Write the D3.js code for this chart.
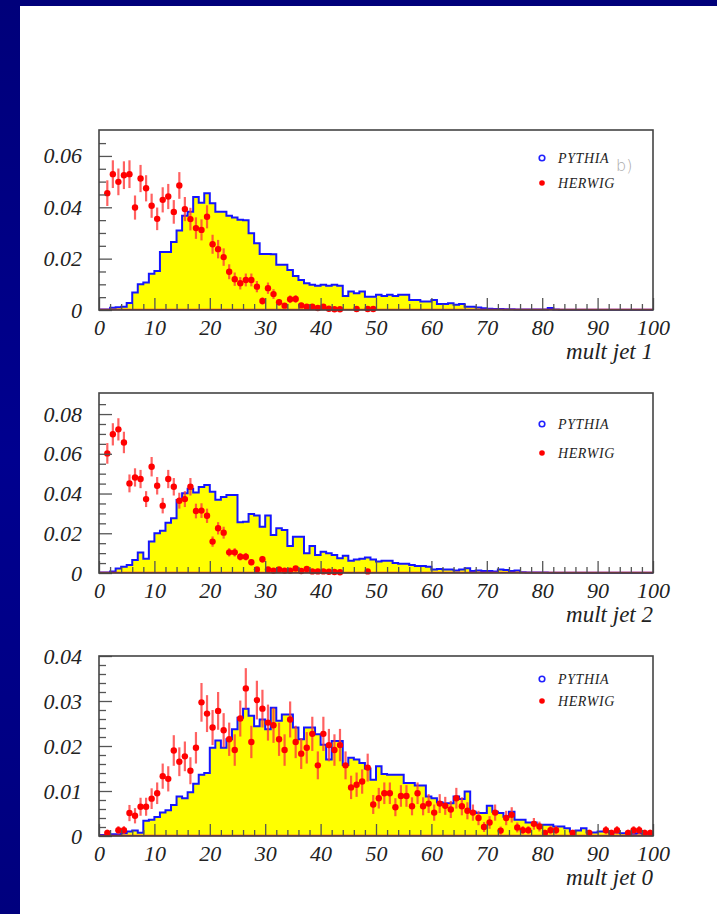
<!DOCTYPE html>
<html><head><meta charset="utf-8">
<script src="https://cdn.jsdelivr.net/npm/d3@7"></script>
<style>html,body{margin:0;padding:0;background:#fff;overflow:hidden}</style>
</head><body><svg id="c" width="717" height="914"></svg>
<script>
// ---------------- DATA ----------------
const xMajorTicks = [0,10,20,30,40,50,60,70,80,90,100];
const xMinorTicks = [2,4,6,8,12,14,16,18,22,24,26,28,32,34,36,38,42,44,46,48,52,54,56,58,62,64,66,68,72,74,76,78,82,84,86,88,92,94,96,98];
const seriesNames = ["PYTHIA","HERWIG"];
const axisTitles = ["mult jet 1","mult jet 2","mult jet 0"];

const y1Major = [0,0.02,0.04,0.06];
const y1Minor = [0.005,0.01,0.015,0.025,0.03,0.035,0.045,0.05,0.055,0.065];
const y2Major = [0,0.02,0.04,0.06,0.08];
const y2Minor = [0.005,0.01,0.015,0.025,0.03,0.035,0.045,0.05,0.055,0.065,0.07,0.075,0.085];
const y3Major = [0,0.01,0.02,0.03,0.04];
const y3Minor = [0.002,0.004,0.006,0.008,0.012,0.014,0.016,0.018,0.022,0.024,0.026,0.028,0.032,0.034,0.036,0.038];

// bins 0..99 (width 1)
const p1Pythia = [0.0002,0.0002,0.0009,0.0011,0.0013,0.0027,0.0068,0.0100,0.0107,0.0141,0.0152,0.0226,0.0226,0.0265,0.0310,0.0367,0.0383,0.0440,0.0418,0.0455,0.0416,0.0383,0.0383,0.0367,0.0360,0.0351,0.0350,0.0299,0.0260,0.0218,
0.0218,0.0217,0.0176,0.0176,0.0156,0.0132,0.0117,0.0104,0.0098,0.0094,0.0098,0.0094,0.0098,0.0094,0.0055,0.0072,0.0065,0.0072,0.0052,0.0052,
0.0059,0.0055,0.0059,0.0055,0.0059,0.0059,0.0039,0.0039,0.0033,0.0033,0.0039,0.0023,0.0023,0.0026,0.0020,0.0023,0.0013,0.0013,0.0010,0.0007,
0.0005,0.0004,0.0004,0.0003,0.0003,0.0002,0.0002,0.0002,0.0002,0.0002,0.0002,0.0008,0.0002,0.0001,0.0001,0.0001,0.0001,0.0001,0.0001,0.0001,
0.0001,0.0001,0.0001,0.0001,0.0001,0.0001,0.0001,0.0001,0.0001,0.0001];
const p1Herwig = [0,0.0455,0.0529,0.0499,0.0525,0.0529,0.0399,0.0512,0.0474,0.0406,0.0355,0.0429,0.0442,0.0382,0.0485,0.0393,0.0354,0.0319,0.0312,0.0363,
0.0256,0.0237,0.0206,0.0149,0.0120,0.0104,0.0117,0.0117,0.0091,0.0035,0.0085,0.0062,0.0030,0.0017,0.0042,0.0043,0.0018,0.0013,0.0013,0.0008,
0.0013,0.0005,0.0003,0.0003,0,0,0.0004,0,0.0004,0.0004,
0,0,0,0,0,0,0,0,0,0,0,0,0,0,0,0,0,0,0,0,0,0,0,0,0,0,0,0,0,0,0,0,0,0,0,0,0,0,0,0,0,0,0,0,0,0,0,0,0,0];
const p1Err = [0,0.0050,0.0054,0.0052,0.0054,0.0054,0.0047,0.0053,0.0051,0.0047,0.0044,0.0049,0.0049,0.0046,0.0052,0.0047,0.0044,0.0042,0.0041,0.0045,
0.0037,0.0036,0.0034,0.0029,0.0026,0.0024,0.0025,0.0025,0.0022,0.0014,0.0022,0.0019,0.0013,0.0010,0.0015,0.0015,0.0010,0.0008,0.0008,0.0006,
0.0008,0.0005,0.0004,0.0004,0,0,0.0004,0,0.0004,0.0004,
0,0,0,0,0,0,0,0,0,0,0,0,0,0,0,0,0,0,0,0,0,0,0,0,0,0,0,0,0,0,0,0,0,0,0,0,0,0,0,0,0,0,0,0,0,0,0,0,0,0];

const p2Pythia = [0.0002,0.0002,0.0007,0.0023,0.0032,0.0040,0.0065,0.0103,0.0072,0.0158,0.0200,0.0213,0.0253,0.0275,0.0367,0.0401,0.0424,0.0405,0.0433,0.0443,
0.0409,0.0369,0.0383,0.0392,0.0392,0.0256,0.0258,0.0297,0.0290,0.0233,0.0290,0.0191,0.0225,0.0217,0.0136,0.0183,0.0183,0.0099,0.0136,0.0091,
0.0107,0.0099,0.0091,0.0074,0.0087,0.0062,0.0068,0.0072,0.0078,0.0068,0.0058,0.0062,0.0062,0.0050,0.0046,0.0046,0.0040,0.0035,0.0035,0.0032,
0.0018,0.0020,0.0018,0.0018,0.0012,0.0018,0.0024,0.0010,0.0012,0.0010,0.0010,0.0008,0.0018,0.0015,0.0010,0.0012,0.0004,0.0003,0.0003,0.0003,
0.0002,0.0001,0.0001,0.0001,0.0001,0.0001,0.0001,0.0001,0.0001,0.0001,0.0001,0.0001,0.0001,0.0001,0.0001,0.0001,0.0001,0.0001,0.0001,0.0001];
const p2Herwig = [0,0.0602,0.0698,0.0723,0.0657,0.0451,0.0481,0.0473,0.0372,0.0535,0.0439,0.0339,0.0473,0.0434,0.0364,0.0372,0.0434,0.0312,0.0314,0.0288,
0.0158,0.0225,0.0203,0.0104,0.0104,0.0082,0.0082,0.0054,0.0018,0.0069,0.0018,0.0012,0.0018,0.0012,0.0012,0.0023,0.0010,0.0020,0.0008,0.0008,
0.0008,0.0006,0.0005,0.0004,0,0,0,0,0.0008,0,
0,0,0,0,0,0,0,0,0,0,0,0,0,0,0,0,0,0,0,0,0,0,0,0,0,0,0,0,0,0,0,0,0,0,0,0,0,0,0,0,0,0,0,0,0,0,0,0,0,0];
const p2Err = [0,0.0052,0.0056,0.0056,0.0054,0.0045,0.0046,0.0046,0.0040,0.0049,0.0044,0.0039,0.0046,0.0044,0.0040,0.0040,0.0044,0.0037,0.0037,0.0036,
0.0026,0.0031,0.0030,0.0021,0.0021,0.0019,0.0019,0.0015,0.0009,0.0017,0.0009,0.0007,0.0009,0.0007,0.0007,0.0010,0.0007,0.0009,0.0006,0.0006,
0.0006,0.0005,0.0005,0.0004,0,0,0,0,0.0006,0,
0,0,0,0,0,0,0,0,0,0,0,0,0,0,0,0,0,0,0,0,0,0,0,0,0,0,0,0,0,0,0,0,0,0,0,0,0,0,0,0,0,0,0,0,0,0,0,0,0,0];

const p3Pythia = [0.0002,0.0002,0.0004,0.0004,0.0006,0.0010,0.0012,0.0007,0.0034,0.0036,0.0042,0.0052,0.0057,0.0069,0.0088,0.0084,0.0097,0.0116,0.0136,0.0140,
0.0196,0.0212,0.0196,0.0215,0.0237,0.0263,0.0283,0.0267,0.0244,0.0259,0.0237,0.0285,0.0256,0.0270,0.0270,0.0241,0.0215,0.0241,0.0241,0.0226,
0.0203,0.0170,0.0211,0.0211,0.0158,0.0174,0.0170,0.0162,0.0150,0.0125,0.0155,0.0138,0.0136,0.0136,0.0136,0.0118,0.0118,0.0112,0.0112,0.0088,
0.0084,0.0075,0.0073,0.0073,0.0088,0.0082,0.0099,0.0054,0.0051,0.0051,0.0067,0.0054,0.0051,0.0043,0.0054,0.0036,0.0036,0.0030,0.0030,0.0025,
0.0025,0.0025,0.0021,0.0021,0.0017,0.0010,0.0012,0.0017,0.0008,0.0008,0.0010,0.0010,0.0008,0.0008,0.0006,0.0006,0.0005,0.0006,0.0005,0.0005];
const p3Herwig = [0,0.0007,0,0.0013,0.0013,0.0051,0.0045,0.0065,0.0065,0.0083,0.0095,0.0133,0.0127,0.0190,0.0165,0.0177,0.0145,0.0196,0.0297,0.0272,
0.0241,0.0278,0.0235,0.0215,0.0191,0.0261,0.0328,0.0209,0.0302,0.0283,0.0252,0.0246,0.0215,0.0191,0.0259,0.0209,0.0183,0.0196,0.0227,0.0157,
0.0227,0.0202,0.0191,0.0202,0.0157,0.0108,0.0114,0.0121,0.0152,0.0070,0.0084,0.0095,0.0095,0.0064,0.0089,0.0089,0.0066,0.0095,0.0066,0.0072,
0.0052,0.0072,0.0067,0.0059,0.0084,0.0066,0.0056,0.0052,0.0040,0.0020,0.0030,0.0052,0.0012,0.0040,0.0047,0.0019,0.0013,0.0013,0.0027,0.0021,
0.0007,0.0013,0.0013,0,0,0.0007,0,0,0.0007,0,0,0.0013,0.0007,0.0013,0,0.0007,0.0013,0.0013,0.0007,0.0007];
const p3Err = [0,0.0007,0,0.0009,0.0009,0.0018,0.0017,0.0020,0.0020,0.0023,0.0024,0.0028,0.0028,0.0034,0.0032,0.0033,0.0030,0.0035,0.0043,0.0041,
0.0039,0.0042,0.0038,0.0037,0.0035,0.0040,0.0045,0.0036,0.0043,0.0042,0.0040,0.0039,0.0037,0.0035,0.0040,0.0036,0.0034,0.0035,0.0038,0.0031,
0.0038,0.0036,0.0035,0.0036,0.0031,0.0026,0.0027,0.0027,0.0031,0.0021,0.0023,0.0024,0.0024,0.0020,0.0024,0.0024,0.0020,0.0024,0.0020,0.0021,
0.0018,0.0021,0.0020,0.0019,0.0023,0.0020,0.0019,0.0018,0.0016,0.0011,0.0014,0.0018,0.0009,0.0016,0.0017,0.0011,0.0009,0.0009,0.0013,0.0011,
0.0007,0.0009,0.0009,0,0,0.0007,0,0,0.0007,0,0,0.0009,0.0007,0.0009,0,0.0007,0.0009,0.0009,0.0007,0.0007];

// ---------------- LAYOUT ----------------
const panels = [
  {pythia:p1Pythia, herwig:p1Herwig, err:p1Err, yMax:0.0701, yMajor:y1Major, yMinor:y1Minor, title:axisTitles[0], top:130, bottom:310, leg:[28,53], tag:"b)"},
  {pythia:p2Pythia, herwig:p2Herwig, err:p2Err, yMax:0.0906, yMajor:y2Major, yMinor:y2Minor, title:axisTitles[1], top:393, bottom:573, leg:[31,60]},
  {pythia:p3Pythia, herwig:p3Herwig, err:p3Err, yMax:0.0400, yMajor:y3Major, yMinor:y3Minor, title:axisTitles[2], top:656, bottom:836, leg:[23,45]}
];
const L = 99, R = 653;
const serif = "'Liberation Serif','Times New Roman',serif";

const svg = d3.select("#c");
// background border
const defs = svg.append("defs");
const g1 = defs.append("linearGradient").attr("id","bg").attr("x1",0).attr("y1",0).attr("x2",0).attr("y2",1);
g1.append("stop").attr("offset","0").attr("stop-color","#00007a");
g1.append("stop").attr("offset","0.5").attr("stop-color","#00008f");
g1.append("stop").attr("offset","1").attr("stop-color","#00007e");
svg.append("rect").attr("width",717).attr("height",914).attr("fill","url(#bg)");
svg.append("rect").attr("x",20).attr("y",6).attr("width",697).attr("height",908).attr("fill","#fff");

const x = d3.scaleLinear().domain([0,100]).range([L,R]);

panels.forEach(P => {
  const y = d3.scaleLinear().domain([0,P.yMax]).range([P.bottom,P.top]);
  const g = svg.append("g");
  const pts = P.pythia.map((v,i)=>({x:i,y:v}));
  pts.push({x:100,y:P.pythia[P.pythia.length-1]});
  g.append("path").datum(pts)
    .attr("d", d3.area().curve(d3.curveStepAfter).x(d=>x(d.x)).y0(y(0)).y1(d=>y(d.y)))
    .attr("fill","#ffff00");
  g.append("path").datum(pts)
    .attr("d", d3.line().curve(d3.curveStepAfter).x(d=>x(d.x)).y(d=>y(d.y)))
    .attr("fill","none").attr("stroke","#1515ff").attr("stroke-width",2);
  // herwig baseline
  g.append("line").attr("x1",x(0)).attr("x2",x(100)).attr("y1",y(0)-0.5).attr("y2",y(0)-0.5)
    .attr("stroke","#ff2020").attr("stroke-width",1.6);
  const hd = P.herwig.map((v,i)=>({x:i+0.5,y:v,e:P.err[i]})).filter(d=>d.y>0);
  g.selectAll(".eb").data(hd).enter().append("line")
    .attr("x1",d=>x(d.x)).attr("x2",d=>x(d.x))
    .attr("y1",d=>y(d.y-d.e)).attr("y2",d=>y(d.y+d.e))
    .attr("stroke","#ff3a3a").attr("stroke-opacity",0.8).attr("stroke-width",2.2);
  g.selectAll(".pt").data(hd).enter().append("circle")
    .attr("cx",d=>x(d.x)).attr("cy",d=>y(d.y)).attr("r",3.2).attr("fill","#ff0000");

  // ticks (inside)
  const fmt = d => d===0 ? "0" : d3.format(".2f")(d);
  const ax = g.append("g").attr("transform",`translate(0,${P.bottom})`)
    .call(d3.axisBottom(x).tickValues(xMajorTicks).tickSize(-12).tickPadding(9.5).tickFormat(d3.format("d")));
  const axm = g.append("g").attr("transform",`translate(0,${P.bottom})`)
    .call(d3.axisBottom(x).tickValues(xMinorTicks).tickSize(-6).tickFormat(""));
  const ay = g.append("g").attr("transform",`translate(${L},0)`)
    .call(d3.axisLeft(y).tickValues(P.yMajor).tickSize(-13).tickPadding(17).tickFormat(fmt));
  const aym = g.append("g").attr("transform",`translate(${L},0)`)
    .call(d3.axisLeft(y).tickValues(P.yMinor).tickSize(-7).tickFormat(""));
  [ax,axm,ay,aym].forEach(a=>{
    a.select(".domain").remove();
    a.selectAll("line").attr("stroke","#555").attr("stroke-width",1.3);
    a.selectAll("text").attr("font-family",serif).attr("font-style","italic")
      .attr("font-size",22).attr("fill","#222");
  });
  // frame
  g.append("rect").attr("x",L).attr("y",P.top).attr("width",R-L).attr("height",P.bottom-P.top)
    .attr("fill","none").attr("stroke","#444").attr("stroke-width",1.6);
  // axis title
  g.append("text").attr("x",R).attr("y",P.bottom+49).attr("text-anchor","end")
    .attr("font-family",serif).attr("font-style","italic").attr("font-size",23).attr("fill","#222")
    .text(P.title);
  // legend
  const lg = g.append("g");
  lg.append("circle").attr("cx",542).attr("cy",P.top+P.leg[0]).attr("r",2.8)
    .attr("fill","none").attr("stroke","#2020ff").attr("stroke-width",1.6);
  lg.append("circle").attr("cx",542).attr("cy",P.top+P.leg[1]).attr("r",2.8).attr("fill","#ff0000");
  lg.selectAll("text").data(seriesNames).enter().append("text")
    .attr("x",558).attr("y",(d,i)=>P.top+P.leg[i]+4.5)
    .attr("font-family",serif).attr("font-style","italic").attr("font-size",14)
    .attr("letter-spacing",0.6).attr("fill","#222").text(d=>d);
  if (P.tag) {
    g.append("text").attr("x",616).attr("y",P.top+41).attr("font-family","'DejaVu Sans',sans-serif")
      .attr("font-size",16).attr("fill","#aaa").attr("font-weight",300).text(P.tag);
  }
});
</script></body></html>
